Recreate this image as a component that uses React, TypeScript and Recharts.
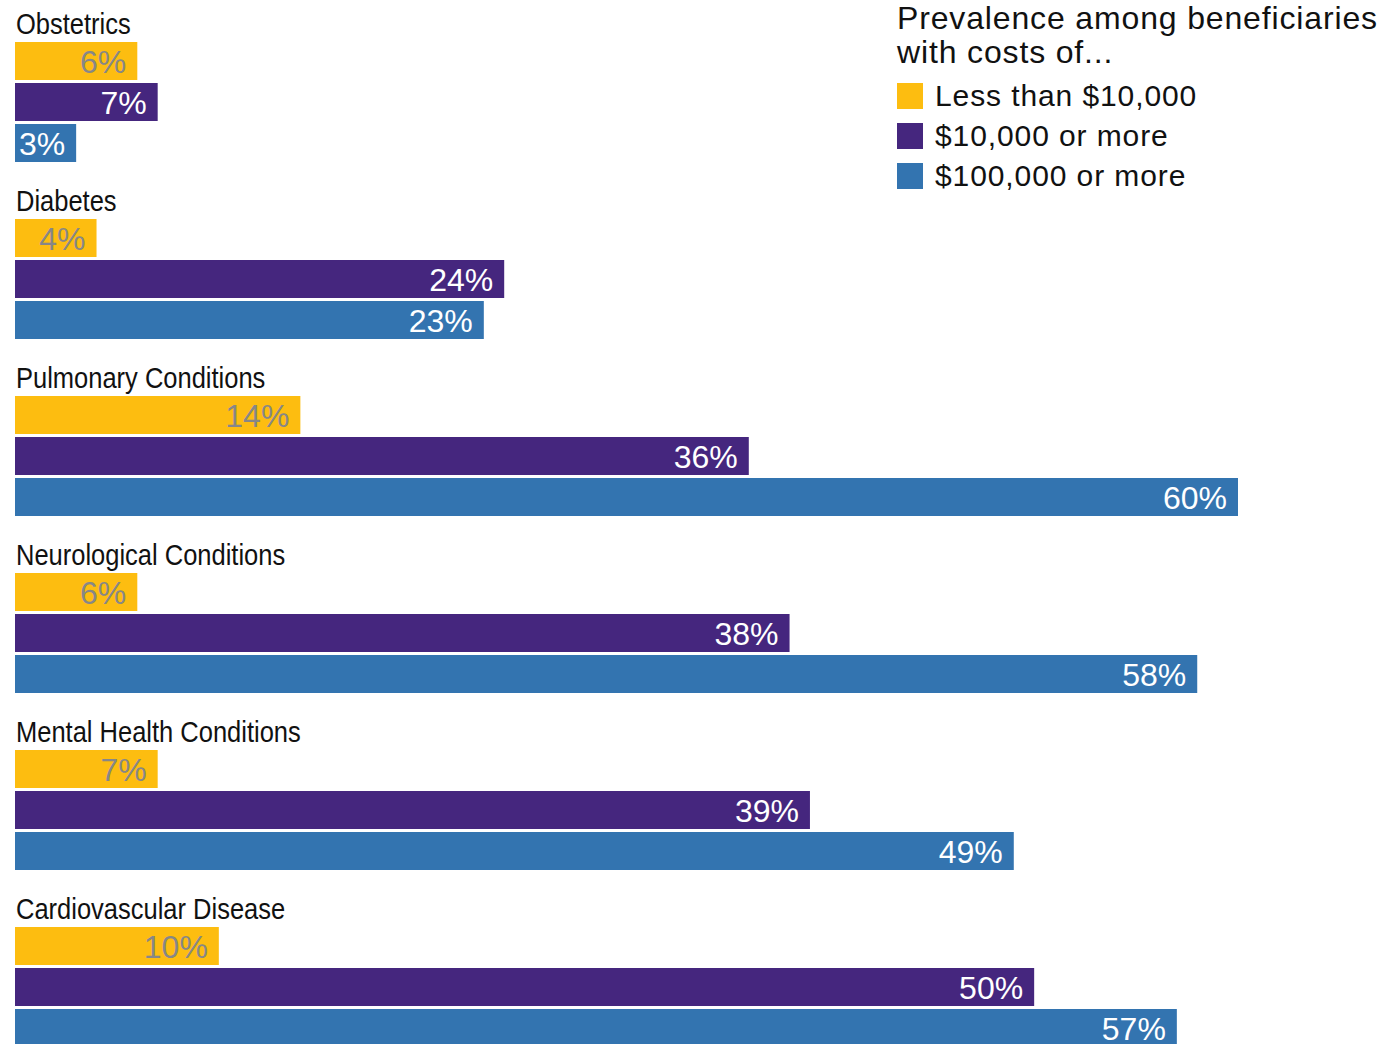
import React from 'react';
import { BarChart, Bar, XAxis, YAxis, LabelList } from 'recharts';

const categories = [
  'Obstetrics',
  'Diabetes',
  'Pulmonary Conditions',
  'Neurological Conditions',
  'Mental Health Conditions',
  'Cardiovascular Disease',
];
const lessThan10k = [6, 4, 14, 6, 7, 10];
const tenKOrMore = [7, 24, 36, 38, 39, 50];
const hundredKOrMore = [3, 23, 60, 58, 49, 57];

const seriesKeys = ['low', 'mid', 'high'] as const;
const seriesNames = ['Less than $10,000', '$10,000 or more', '$100,000 or more'];
const COLORS = ['#FDBD10', '#45267E', '#3374B0'];
const LABEL_COLORS = ['#878787', '#ffffff', '#ffffff'];

const data = categories.map((name, i) => ({
  name,
  low: lessThan10k[i],
  mid: tenKOrMore[i],
  high: hundredKOrMore[i],
}));

const SANS = '"Liberation Sans", Arial, Helvetica, sans-serif';

// category name sits just above the first bar of each group (condensed look via scaleX)
const categoryLabel = (props: any) => {
  const { x, y, value } = props;
  return (
    <g transform={`translate(${x + 1},${y - 8}) scale(0.85,1)`}>
      <text x={0} y={0} fill="#111" fontFamily={SANS} fontSize={30} textAnchor="start">
        {value}
      </text>
    </g>
  );
};

const valueLabel = (color: string) => (props: any) => {
  const { x, y, width, height, value } = props;
  return (
    <text
      x={x + width - 11}
      y={y + height / 2 + 12}
      fill={color}
      fontFamily={SANS}
      fontSize={32}
      textAnchor="end"
    >
      {`${value}%`}
    </text>
  );
};

const LegendBox = () => (
  <div style={{ position: 'absolute', left: 897, top: 1, fontFamily: SANS, color: '#111' }}>
    <div style={{ fontSize: 32, lineHeight: '34px', letterSpacing: 0.85, marginBottom: 7, whiteSpace: 'nowrap' }}>
      Prevalence among beneficiaries
      <br />
      with costs of...
    </div>
    {seriesNames.map((name, i) => (
      <div key={name} style={{ display: 'flex', alignItems: 'center', height: 40 }}>
        <span style={{ width: 26, height: 26, background: COLORS[i], marginRight: 12, flex: 'none' }} />
        <span style={{ fontSize: 30, lineHeight: '40px', letterSpacing: 0.9, whiteSpace: 'nowrap' }}>{name}</span>
      </div>
    ))}
  </div>
);

export default function App() {
  return (
    <div
      style={{
        position: 'absolute',
        left: 0,
        top: 0,
        width: 1384,
        height: 1044,
        overflow: 'hidden',
        background: '#fff',
      }}
    >
      <BarChart
        width={1384}
        height={1080}
        data={data}
        layout="vertical"
        margin={{ top: 13, right: 146, bottom: 5, left: 15 }}
        barGap={3}
      >
        <XAxis type="number" domain={[0, 60]} hide />
        <YAxis type="category" dataKey="name" hide />
        {seriesKeys.map((key, i) => (
          <Bar
            key={key}
            dataKey={key}
            name={seriesNames[i]}
            fill={COLORS[i]}
            barSize={38}
            isAnimationActive={false}
          >
            <LabelList dataKey={key} content={valueLabel(LABEL_COLORS[i])} />
            {i === 0 && <LabelList dataKey="name" content={categoryLabel} />}
          </Bar>
        ))}
      </BarChart>
      <LegendBox />
    </div>
  );
}
